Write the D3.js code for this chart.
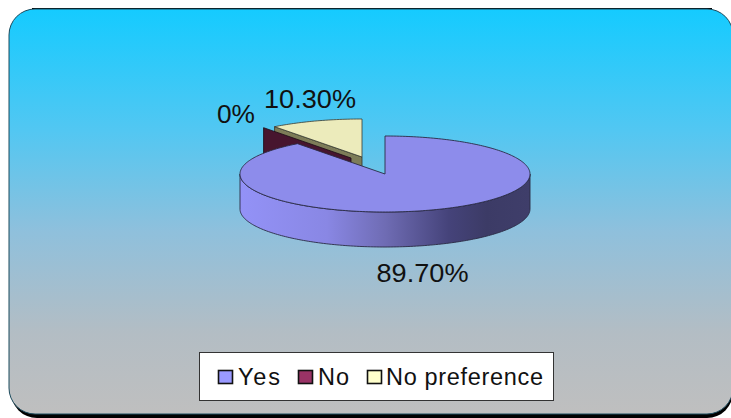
<!DOCTYPE html>
<html><head><meta charset="utf-8">
<script src="https://cdnjs.cloudflare.com/ajax/libs/d3/7.8.5/d3.min.js"></script>
<style>html,body{margin:0;padding:0;background:#fff}svg{display:block}text{font-family:"Liberation Sans",Arial,sans-serif;fill:#111}</style>
</head><body><svg id="c" width="731" height="418"></svg>
<script>
const categories = ["Yes", "No", "No preference"];
const values = [89.7, 0, 10.3];
const labels = ["89.70%", "0%", "10.30%"];
const legendColors = ["#9999ff", "#993366", "#ffffcc"];
const topColors = ["#8d8ceb", "#4a1530", "#ecebbb"];
const wallColors = ["#8d8ceb", "#47152e", "#7d7c58"];

const svg = d3.select("#c");
const defs = svg.append("defs");
const bg = defs.append("linearGradient").attr("id","bg").attr("x1",0).attr("y1",0).attr("x2",0).attr("y2",1);
[[0,"#15cbff"],[.3,"#52c7f2"],[.55,"#8fc0dc"],[.8,"#b3bdc4"],[1,"#bfbfbf"]]
  .forEach(s=>bg.append("stop").attr("offset",s[0]).attr("stop-color",s[1]));
const wg = defs.append("linearGradient").attr("id","wall").attr("gradientUnits","userSpaceOnUse")
  .attr("x1",240).attr("x2",530).attr("y1",0).attr("y2",0);
[[0,"#9392f7"],[.3,"#8987e4"],[.5,"#6f6cb4"],[.72,"#45437a"],[.85,"#3c3b66"],[1,"#3f3e6a"]]
  .forEach(s=>wg.append("stop").attr("offset",s[0]).attr("stop-color",s[1]));

// panel
svg.append("rect").attr("x",11).attr("y",11).attr("width",722).attr("height",407).attr("rx",26).attr("fill","#000");
svg.append("line").attr("x1",32).attr("x2",712).attr("y1",8.5).attr("y2",8.5).attr("stroke","#000").attr("stroke-width",1);
svg.append("rect").attr("x",9).attr("y",9).attr("width",724).attr("height",405).attr("rx",26)
  .attr("fill","url(#bg)").attr("stroke","#1b4a5c").attr("stroke-width",1);

// pie geometry: unit ellipse to pixels
const rx = 145, ry = 38, depth = 35;
const pie = d3.pie().sort(null).value(d=>d).startAngle(0).endAngle(2*Math.PI);
const arcs = pie(values);
const unitX = d3.scaleLinear().domain([-1,1]).range([-rx,rx]);
const unitY = d3.scaleLinear().domain([-1,1]).range([-ry,ry]);
const centers = [[385,174],[351,158],[362,157]];
const pt = (i,a,dy=0)=>[centers[i][0]+unitX(Math.sin(a)), centers[i][1]-unitY(Math.cos(a))+dy];
const arcPts = (i,a0,a1,dy=0)=>{const n=Math.max(2,Math.ceil(Math.abs(a1-a0)/0.02));
  return d3.range(n+1).map(k=>pt(i,a0+(a1-a0)*k/n,dy));};
const line = d3.line();
const stroke = "#2a2a44";

// No preference: radial wall then top
const npi=2, np=arcs[npi];
const c2=centers[npi];
svg.append("path").attr("d",line([pt(npi,np.startAngle),c2,[c2[0],c2[1]+depth],pt(npi,np.startAngle,depth)])+"Z")
  .attr("fill",wallColors[npi]).attr("stroke","#33332a").attr("stroke-width",.8);
svg.append("path").attr("d",line([c2,...arcPts(npi,np.startAngle,np.endAngle)])+"Z")
  .attr("fill",topColors[npi]).attr("stroke","#3a3a30").attr("stroke-width",.8);

// No: zero-width slice, only its wall shows
const ni=1, c1=centers[ni];
svg.append("path").attr("d",line([pt(ni,arcs[2].startAngle),c1,[c1[0],c1[1]+depth],pt(ni,arcs[2].startAngle,depth)])+"Z")
  .attr("fill",wallColors[ni]).attr("stroke","#1a0a14").attr("stroke-width",.8);

// Yes: outer wall and top
const yi=0, y=arcs[yi];
const front = arcPts(yi,Math.PI/2,3*Math.PI/2);
const frontLow = arcPts(yi,3*Math.PI/2,Math.PI/2,depth);
svg.append("path").attr("d",line([...front,...frontLow])+"Z").attr("fill","url(#wall)").attr("stroke",stroke).attr("stroke-width",.9);
svg.append("path").attr("d",line([centers[yi],...arcPts(yi,y.startAngle,y.endAngle)])+"Z")
  .attr("fill",topColors[yi]).attr("stroke",stroke).attr("stroke-width",.9);

// data labels
const labelPos=[[422.5,282],[236,123],[310,108]];
labels.forEach((t,i)=>svg.append("text").attr("x",labelPos[i][0]).attr("y",labelPos[i][1])
  .attr("text-anchor","middle").attr("font-size",26).attr("textLength",i==1?38:92).attr("lengthAdjust","spacingAndGlyphs").text(t));

// legend
svg.append("rect").attr("x",199.5).attr("y",352.5).attr("width",354).attr("height",48).attr("fill","#fff").attr("stroke","#333").attr("stroke-width",1);
const swatchX=[218.5,298.5,367.5], textX=[238,318,386], textW=[42,31,157];
categories.forEach((c,i)=>{
  svg.append("rect").attr("x",swatchX[i]).attr("y",370.5).attr("width",14).attr("height",13)
    .attr("fill",legendColors[i]).attr("stroke","#111").attr("stroke-width",1.6);
  svg.append("text").attr("x",textX[i]).attr("y",384.5).attr("font-size",23.5)
    .attr("textLength",textW[i]).attr("lengthAdjust","spacing").text(c);
});
</script></body></html>
